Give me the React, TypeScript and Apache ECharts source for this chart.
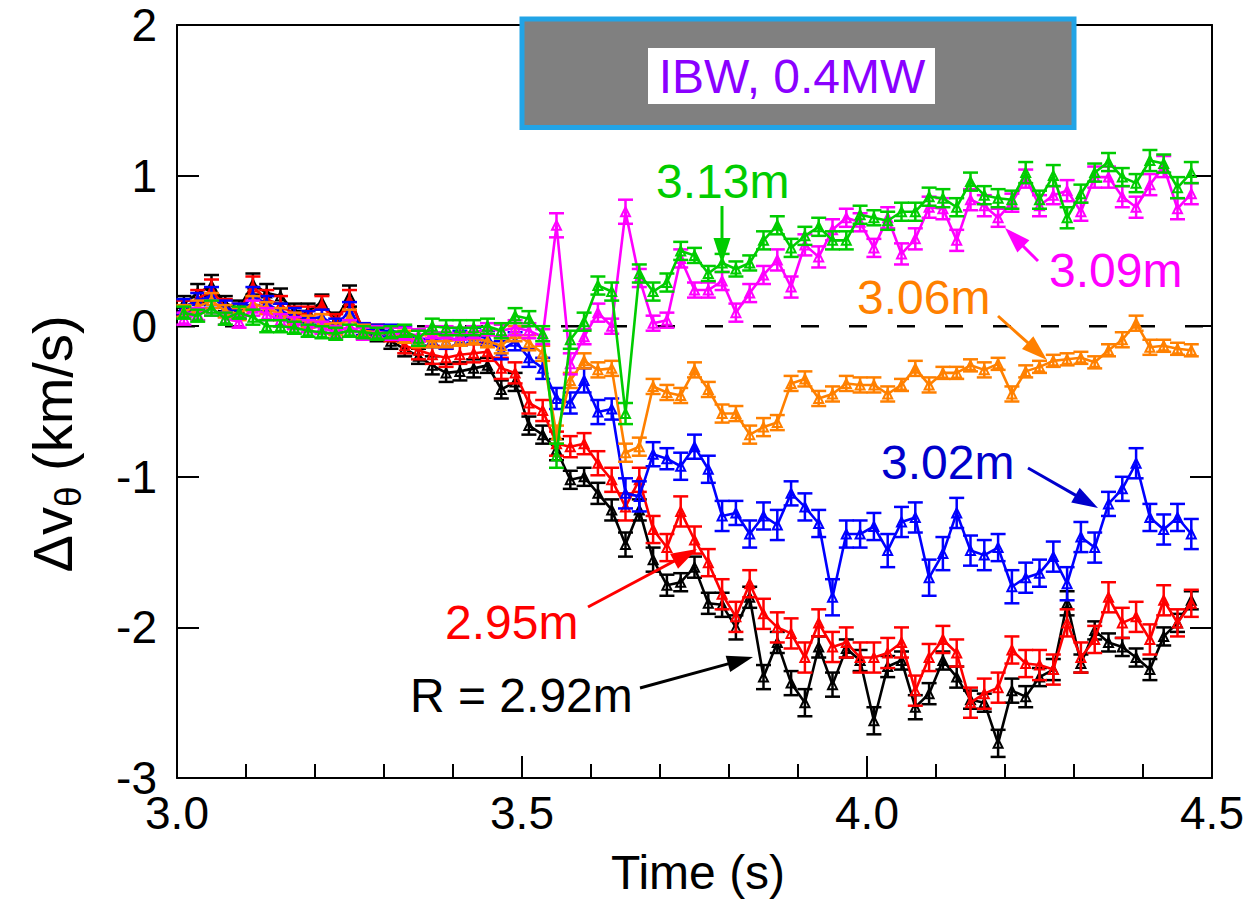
import React, { useEffect, useRef } from "react";
import * as echarts from "echarts";

// Sample times (s)
const TIME = [
  3.01, 3.03, 3.05, 3.07, 3.09, 3.11, 3.13, 3.15, 3.17, 3.19,
  3.21, 3.23, 3.25, 3.27, 3.29, 3.31, 3.33, 3.35, 3.37, 3.39,
  3.41, 3.43, 3.45, 3.47, 3.49, 3.51, 3.53, 3.55, 3.57, 3.59,
  3.61, 3.63, 3.65, 3.67, 3.69, 3.71, 3.73, 3.75, 3.77, 3.79,
  3.81, 3.83, 3.85, 3.87, 3.89, 3.91, 3.93, 3.95, 3.97, 3.99,
  4.01, 4.03, 4.05, 4.07, 4.09, 4.11, 4.13, 4.15, 4.17, 4.19,
  4.21, 4.23, 4.25, 4.27, 4.29, 4.31, 4.33, 4.35, 4.37, 4.39,
  4.41, 4.43, 4.45, 4.47,
];

// R = 2.92 m
const BLACK = [
  0.15, 0.22, 0.27, 0.15, 0.12, 0.28, 0.22, 0.20, 0.10, 0.10,
  0.16, 0.04, 0.20, -0.04, -0.06, -0.10, -0.15, -0.20, -0.26, -0.31,
  -0.30, -0.28, -0.26, -0.42, -0.37, -0.66, -0.72, -0.82, -1.02, -1.00,
  -1.11, -1.22, -1.45, -1.22, -1.55, -1.72, -1.70, -1.60, -1.84, -1.85,
  -2.00, -1.80, -2.33, -2.10, -2.37, -2.50, -2.13, -2.38, -2.14, -2.22,
  -2.62, -2.26, -2.22, -2.53, -2.44, -2.22, -2.33, -2.48, -2.50, -2.77,
  -2.42, -2.46, -2.33, -2.28, -1.84, -2.24, -2.02, -2.10, -2.13, -2.20,
  -2.28, -2.06, -1.97, -1.82,
];
const BLACK_ERR = [
  0.05, 0.06, 0.07, 0.05, 0.05, 0.07, 0.06, 0.05, 0.05, 0.05,
  0.05, 0.05, 0.07, 0.04, 0.04, 0.05, 0.05, 0.05, 0.06, 0.06,
  0.06, 0.06, 0.05, 0.06, 0.06, 0.06, 0.06, 0.07, 0.06, 0.06,
  0.07, 0.07, 0.08, 0.07, 0.08, 0.07, 0.06, 0.07, 0.07, 0.08,
  0.08, 0.07, 0.08, 0.07, 0.08, 0.09, 0.07, 0.08, 0.06, 0.07,
  0.09, 0.07, 0.06, 0.08, 0.07, 0.06, 0.07, 0.06, 0.06, 0.09,
  0.08, 0.07, 0.06, 0.07, 0.08, 0.06, 0.06, 0.06, 0.06, 0.06,
  0.07, 0.06, 0.06, 0.06,
];

// 2.95 m
const RED = [
  0.12, 0.18, 0.24, 0.12, 0.10, 0.26, 0.18, 0.14, 0.08, 0.08,
  0.14, 0.03, 0.17, -0.02, -0.03, -0.05, -0.13, -0.16, -0.19, -0.21,
  -0.19, -0.18, -0.17, -0.28, -0.31, -0.51, -0.56, -0.78, -0.80, -0.78,
  -0.91, -1.02, -1.20, -1.02, -1.35, -1.47, -1.23, -1.42, -1.57, -1.78,
  -1.93, -1.71, -1.91, -2.00, -2.04, -2.20, -1.97, -2.13, -2.10, -2.20,
  -2.20, -2.17, -2.10, -2.42, -2.20, -2.08, -2.17, -2.50, -2.44, -2.40,
  -2.15, -2.24, -2.25, -2.28, -1.97, -2.20, -2.08, -1.80, -1.97, -1.93,
  -2.08, -1.82, -1.97, -1.84,
];
const RED_ERR = [
  0.05, 0.06, 0.07, 0.06, 0.05, 0.07, 0.06, 0.06, 0.05, 0.05,
  0.06, 0.05, 0.07, 0.04, 0.04, 0.05, 0.05, 0.06, 0.06, 0.06,
  0.06, 0.06, 0.06, 0.07, 0.07, 0.07, 0.07, 0.08, 0.07, 0.07,
  0.08, 0.08, 0.09, 0.08, 0.09, 0.09, 0.10, 0.09, 0.09, 0.10,
  0.10, 0.09, 0.10, 0.10, 0.10, 0.10, 0.09, 0.10, 0.10, 0.10,
  0.10, 0.10, 0.10, 0.10, 0.09, 0.09, 0.09, 0.10, 0.10, 0.10,
  0.09, 0.09, 0.10, 0.10, 0.09, 0.10, 0.09, 0.10, 0.10, 0.10,
  0.10, 0.10, 0.09, 0.09,
];

// 3.02 m
const BLUE = [
  0.13, 0.17, 0.20, 0.12, 0.10, 0.20, 0.15, 0.10, 0.07, 0.05,
  0.06, 0.00, 0.10, -0.02, -0.03, -0.03, -0.05, -0.08, -0.09, -0.10,
  -0.08, -0.06, -0.08, -0.16, -0.10, -0.21, -0.28, -0.48, -0.51, -0.36,
  -0.57, -0.55, -1.11, -1.13, -0.85, -0.88, -0.93, -0.80, -0.95, -1.26,
  -1.24, -1.38, -1.26, -1.32, -1.11, -1.20, -1.31, -1.80, -1.38, -1.38,
  -1.33, -1.49, -1.30, -1.27, -1.67, -1.51, -1.24, -1.49, -1.52, -1.47,
  -1.73, -1.67, -1.64, -1.53, -1.71, -1.40, -1.47, -1.18, -1.08, -0.91,
  -1.27, -1.35, -1.27, -1.38,
];
const BLUE_ERR = [
  0.05, 0.05, 0.06, 0.05, 0.05, 0.06, 0.05, 0.05, 0.05, 0.05,
  0.05, 0.05, 0.06, 0.04, 0.04, 0.04, 0.05, 0.05, 0.05, 0.05,
  0.05, 0.05, 0.05, 0.06, 0.06, 0.06, 0.07, 0.07, 0.07, 0.08,
  0.08, 0.07, 0.10, 0.10, 0.08, 0.07, 0.09, 0.08, 0.09, 0.10,
  0.08, 0.09, 0.09, 0.10, 0.08, 0.09, 0.09, 0.12, 0.09, 0.09,
  0.09, 0.11, 0.10, 0.10, 0.12, 0.11, 0.10, 0.10, 0.10, 0.09,
  0.11, 0.10, 0.09, 0.10, 0.11, 0.10, 0.10, 0.08, 0.08, 0.10,
  0.09, 0.10, 0.09, 0.10,
];

// 3.06 m
const ORANGE = [
  0.10, 0.13, 0.17, 0.10, 0.08, 0.15, 0.12, 0.08, 0.05, 0.03,
  0.04, -0.02, 0.06, -0.03, -0.04, -0.05, -0.07, -0.10, -0.10, -0.10,
  -0.09, -0.08, -0.10, -0.13, -0.05, -0.11, -0.18, -0.72, -0.36, -0.23,
  -0.29, -0.28, -0.84, -0.80, -0.40, -0.44, -0.46, -0.29, -0.42, -0.58,
  -0.58, -0.72, -0.67, -0.64, -0.38, -0.35, -0.48, -0.45, -0.38, -0.39,
  -0.39, -0.45, -0.39, -0.28, -0.39, -0.31, -0.31, -0.26, -0.29, -0.25,
  -0.45, -0.30, -0.27, -0.23, -0.22, -0.21, -0.24, -0.16, -0.09, 0.02,
  -0.14, -0.13, -0.15, -0.16,
];
const ORANGE_ERR = [
  0.04, 0.04, 0.05, 0.04, 0.04, 0.05, 0.04, 0.04, 0.04, 0.04,
  0.04, 0.04, 0.05, 0.04, 0.04, 0.04, 0.04, 0.04, 0.04, 0.04,
  0.04, 0.04, 0.04, 0.05, 0.05, 0.05, 0.05, 0.06, 0.05, 0.05,
  0.05, 0.05, 0.06, 0.06, 0.05, 0.05, 0.05, 0.05, 0.05, 0.06,
  0.05, 0.06, 0.06, 0.05, 0.05, 0.05, 0.05, 0.05, 0.05, 0.05,
  0.05, 0.05, 0.04, 0.05, 0.05, 0.04, 0.04, 0.04, 0.05, 0.04,
  0.05, 0.04, 0.04, 0.04, 0.04, 0.04, 0.04, 0.04, 0.05, 0.05,
  0.05, 0.04, 0.04, 0.04,
];

// 3.09 m
const MAGENTA = [
  0.05, 0.08, 0.12, 0.05, 0.03, 0.12, 0.08, 0.04, 0.02, 0.00,
  -0.01, -0.04, 0.00, -0.05, -0.04, -0.05, -0.05, -0.06, -0.04, -0.04,
  -0.05, -0.04, -0.02, -0.03, -0.01, -0.03, -0.07, 0.67, -0.25, -0.07,
  0.09, 0.00, 0.76, 0.32, 0.02, 0.04, 0.45, 0.24, 0.24, 0.30,
  0.09, 0.22, 0.34, 0.44, 0.26, 0.54, 0.46, 0.64, 0.72, 0.69,
  0.52, 0.72, 0.48, 0.58, 0.79, 0.78, 0.57, 0.84, 0.80, 0.72,
  0.82, 0.98, 0.80, 0.87, 0.90, 0.76, 0.99, 0.99, 0.86, 0.79,
  0.94, 1.06, 0.78, 0.88,
];
const MAGENTA_ERR = [
  0.04, 0.04, 0.05, 0.04, 0.04, 0.05, 0.04, 0.04, 0.04, 0.04,
  0.04, 0.04, 0.04, 0.04, 0.04, 0.04, 0.04, 0.04, 0.04, 0.04,
  0.04, 0.04, 0.04, 0.04, 0.05, 0.05, 0.05, 0.08, 0.07, 0.05,
  0.06, 0.05, 0.08, 0.06, 0.05, 0.05, 0.06, 0.05, 0.05, 0.06,
  0.06, 0.06, 0.06, 0.07, 0.07, 0.07, 0.07, 0.07, 0.06, 0.06,
  0.06, 0.07, 0.07, 0.07, 0.07, 0.07, 0.07, 0.07, 0.07, 0.06,
  0.06, 0.06, 0.07, 0.06, 0.07, 0.06, 0.07, 0.07, 0.07, 0.07,
  0.07, 0.07, 0.07, 0.07,
];

// 3.13 m
const GREEN = [
  0.09, 0.07, 0.12, 0.05, 0.09, 0.06, 0.00, 0.00, -0.01, -0.03,
  -0.04, -0.05, -0.03, -0.04, -0.05, -0.04, -0.03, -0.08, 0.00, -0.01,
  -0.01, -0.01, 0.00, -0.03, 0.07, 0.05, -0.05, -0.86, -0.09, 0.03,
  0.27, 0.23, -0.58, 0.35, 0.23, 0.29, 0.50, 0.47, 0.35, 0.42,
  0.38, 0.42, 0.57, 0.67, 0.52, 0.60, 0.66, 0.57, 0.57, 0.74,
  0.72, 0.70, 0.76, 0.76, 0.86, 0.85, 0.79, 0.96, 0.87, 0.85,
  0.84, 1.02, 0.84, 1.00, 0.72, 0.88, 1.02, 1.09, 0.99, 0.95,
  1.10, 1.08, 0.92, 1.02,
];
const GREEN_ERR = [
  0.04, 0.04, 0.05, 0.04, 0.04, 0.05, 0.04, 0.04, 0.04, 0.04,
  0.04, 0.04, 0.04, 0.04, 0.04, 0.04, 0.04, 0.05, 0.05, 0.05,
  0.05, 0.05, 0.05, 0.05, 0.05, 0.05, 0.05, 0.08, 0.06, 0.06,
  0.06, 0.06, 0.07, 0.06, 0.06, 0.06, 0.06, 0.05, 0.05, 0.06,
  0.05, 0.05, 0.06, 0.06, 0.06, 0.06, 0.06, 0.06, 0.06, 0.06,
  0.05, 0.06, 0.06, 0.06, 0.06, 0.06, 0.06, 0.06, 0.06, 0.06,
  0.06, 0.07, 0.06, 0.07, 0.07, 0.06, 0.06, 0.06, 0.06, 0.06,
  0.07, 0.06, 0.07, 0.07,
];

const X_TICKS = [3.0, 3.5, 4.0, 4.5];
const Y_TICKS = [-3, -2, -1, 0, 1, 2];
const IBW_TIME = [3.5, 4.3];
const IBW_LEVEL = [1.32, 2.04];

const FONT = "'Liberation Sans', Arial, Helvetica, sans-serif";

const SERIES = [
  { name: "R = 2.92m", values: BLACK, errors: BLACK_ERR, color: "#000000" },
  { name: "2.95m", values: RED, errors: RED_ERR, color: "#ff0000" },
  { name: "3.02m", values: BLUE, errors: BLUE_ERR, color: "#0000ff" },
  { name: "3.06m", values: ORANGE, errors: ORANGE_ERR, color: "#ff8000" },
  { name: "3.09m", values: MAGENTA, errors: MAGENTA_ERR, color: "#ff00ff" },
  { name: "3.13m", values: GREEN, errors: GREEN_ERR, color: "#00cc00" },
];

// Annotation labels: text, color, left x, center y, arrow tail, arrow tip
const LABELS = [
  { text: "R = 2.92m", color: "#000000", x: 410, y: 695, tail: [640, 688], tip: [753, 657] },
  { text: "2.95m", color: "#ff0000", x: 445, y: 622, tail: [588, 607], tip: [697, 549] },
  { text: "3.02m", color: "#0000cc", x: 881, y: 462, tail: [1028, 468], tip: [1098, 508] },
  { text: "3.06m", color: "#ff8000", x: 857, y: 297, tail: [998, 316], tip: [1047, 360] },
  { text: "3.09m", color: "#ff00ff", x: 1049, y: 270, tail: [1038, 261], tip: [1005, 228] },
  { text: "3.13m", color: "#00cc00", x: 656, y: 181, tail: [722, 206], tip: [722, 264] },
];

function arrow(tail: number[], tip: number[], color: string) {
  const dx = tip[0] - tail[0];
  const dy = tip[1] - tail[1];
  const L = Math.hypot(dx, dy);
  const ux = dx / L;
  const uy = dy / L;
  const headLen = 26;
  const headW = 17;
  const bx = tip[0] - ux * headLen;
  const by = tip[1] - uy * headLen;
  const px = -uy;
  const py = ux;
  return [
    {
      type: "line",
      shape: { x1: tail[0], y1: tail[1], x2: bx + ux * 2, y2: by + uy * 2 },
      style: { stroke: color, lineWidth: 3 },
      z: 100,
    },
    {
      type: "polygon",
      shape: {
        points: [
          [tip[0], tip[1]],
          [bx + (px * headW) / 2, by + (py * headW) / 2],
          [bx - (px * headW) / 2, by - (py * headW) / 2],
        ],
      },
      style: { fill: color },
      z: 100,
    },
  ];
}

function errRender(color: string) {
  return (params: any, api: any) => {
    const x = api.value(0);
    const y = api.value(1);
    const e = api.value(2);
    const hi = api.coord([x, y + e]);
    const lo = api.coord([x, y - e]);
    const hw = 7.5;
    const st = { stroke: color, lineWidth: 2.5 };
    return {
      type: "group",
      children: [
        { type: "line", shape: { x1: hi[0], y1: hi[1], x2: lo[0], y2: lo[1] }, style: st },
        { type: "line", shape: { x1: hi[0] - hw, y1: hi[1], x2: hi[0] + hw, y2: hi[1] }, style: st },
        { type: "line", shape: { x1: lo[0] - hw, y1: lo[1], x2: lo[0] + hw, y2: lo[1] }, style: st },
      ],
    };
  };
}

function zeroLineRender(params: any, api: any) {
  const a = api.coord([api.value(0), api.value(2)]);
  const b = api.coord([api.value(1), api.value(2)]);
  return {
    type: "line",
    shape: { x1: a[0], y1: a[1], x2: b[0], y2: b[1] },
    style: { stroke: "#000", lineWidth: 2.5, lineDash: [18, 30] },
  };
}

export default function App() {
  const ref = useRef<HTMLDivElement>(null);

  useEffect(() => {
    if (!ref.current) return;
    const chart = echarts.init(ref.current, undefined, { renderer: "svg" });

    const series: any[] = [
      {
        type: "custom",
        data: [[X_TICKS[0], X_TICKS[X_TICKS.length - 1], 0]],
        encode: { x: [0, 1], y: 2 },
        renderItem: zeroLineRender,
        silent: true,
        z: 1,
      },
    ];
    SERIES.forEach((s, i) => {
      const pts = TIME.map((t, k) => [t, s.values[k], s.errors[k]]);
      series.push({
        type: "custom",
        name: s.name + " err",
        data: pts,
        encode: { x: 0, y: 1 },
        renderItem: errRender(s.color),
        z: 2 + i,
        silent: true,
      });
      series.push({
        type: "line",
        name: s.name,
        data: pts.map((p) => [p[0], p[1]]),
        symbol: "triangle",
        symbolSize: 9,
        showAllSymbol: true,
        lineStyle: { color: s.color, width: 2.6 },
        itemStyle: { color: "rgba(0,0,0,0)", borderColor: s.color, borderWidth: 2 },
        z: 2 + i,
        silent: true,
      });
    });

    const axisLine = { show: true, onZero: false, lineStyle: { color: "#000", width: 2 } };
    const tick = { show: true, inside: true, length: 22, lineStyle: { color: "#000", width: 2 } };
    const minor = { show: true, splitNumber: 5, length: 14, lineStyle: { color: "#000", width: 2 } };

    const option: any = {
      animation: false,
      backgroundColor: "#ffffff",
      grid: { left: 177, right: 37, top: 25, bottom: 124, containLabel: false },
      xAxis: [
        {
          type: "value",
          min: X_TICKS[0],
          max: X_TICKS[X_TICKS.length - 1],
          interval: 0.5,
          axisLine,
          axisTick: tick,
          minorTick: minor,
          splitLine: { show: false },
          axisLabel: {
            color: "#000",
            fontSize: 46,
            fontFamily: FONT,
            margin: 12,
            formatter: (v: number) => v.toFixed(1),
          },
        },
        {
          type: "value",
          position: "top",
          min: X_TICKS[0],
          max: X_TICKS[X_TICKS.length - 1],
          interval: 0.5,
          axisLine,
          axisTick: { show: false },
          splitLine: { show: false },
          axisLabel: { show: false },
        },
      ],
      yAxis: [
        {
          type: "value",
          min: Y_TICKS[0],
          max: Y_TICKS[Y_TICKS.length - 1],
          interval: 1,
          axisLine,
          axisTick: tick,
          splitLine: { show: false },
          axisLabel: { color: "#000", fontSize: 46, fontFamily: FONT, margin: 20 },
        },
        {
          type: "value",
          position: "right",
          min: Y_TICKS[0],
          max: Y_TICKS[Y_TICKS.length - 1],
          interval: 1,
          axisLine,
          axisTick: tick,
          splitLine: { show: false },
          axisLabel: { show: false },
        },
      ],
      series,
    };
    chart.setOption(option);

    const p1 = chart.convertToPixel({ xAxisIndex: 0, yAxisIndex: 0 }, [IBW_TIME[0], IBW_LEVEL[1]]) as number[];
    const p2 = chart.convertToPixel({ xAxisIndex: 0, yAxisIndex: 0 }, [IBW_TIME[1], IBW_LEVEL[0]]) as number[];

    const graphic: any[] = [
      {
        type: "rect",
        shape: { x: p1[0], y: p1[1], width: p2[0] - p1[0], height: p2[1] - p1[1] },
        style: { fill: "#808080", stroke: "#22a4e6", lineWidth: 5 },
        z: 50,
      },
      {
        type: "rect",
        shape: { x: 648, y: 48, width: 287, height: 56 },
        style: { fill: "#ffffff" },
        z: 51,
      },
      {
        type: "text",
        x: 792,
        y: 76,
        style: {
          text: "IBW, 0.4MW",
          fill: "#8a00ff",
          font: `48px ${FONT}`,
          align: "center",
          verticalAlign: "middle",
        },
        z: 52,
      },
      {
        type: "text",
        x: 698,
        y: 872,
        style: {
          text: "Time (s)",
          fill: "#000",
          font: `48px ${FONT}`,
          align: "center",
          verticalAlign: "middle",
        },
        z: 52,
      },
      {
        type: "text",
        x: 52,
        y: 444,
        rotation: Math.PI / 2,
        style: {
          text: "{a|Δv}{b|θ}{a| (km/s)}",
          align: "center",
          verticalAlign: "middle",
          rich: {
            a: { fontSize: 56, fontFamily: FONT, fill: "#000", lineHeight: 70, verticalAlign: "middle" },
            b: { fontSize: 37, fontFamily: FONT, fill: "#000", lineHeight: 37, verticalAlign: "bottom" },
          },
        },
        z: 52,
      },
    ];
    LABELS.forEach((l) => {
      graphic.push({
        type: "text",
        x: l.x,
        y: l.y,
        style: {
          text: l.text,
          fill: l.color,
          font: `48px ${FONT}`,
          align: "left",
          verticalAlign: "middle",
        },
        z: 100,
      });
      arrow(l.tail, l.tip, l.color).forEach((g) => graphic.push(g));
    });
    chart.setOption({ graphic });

    return () => {
      chart.dispose();
    };
  }, []);

  return (
    <div
      ref={ref}
      style={{ position: "absolute", left: 0, top: 0, width: 1249, height: 902, background: "#fff" }}
    />
  );
}
